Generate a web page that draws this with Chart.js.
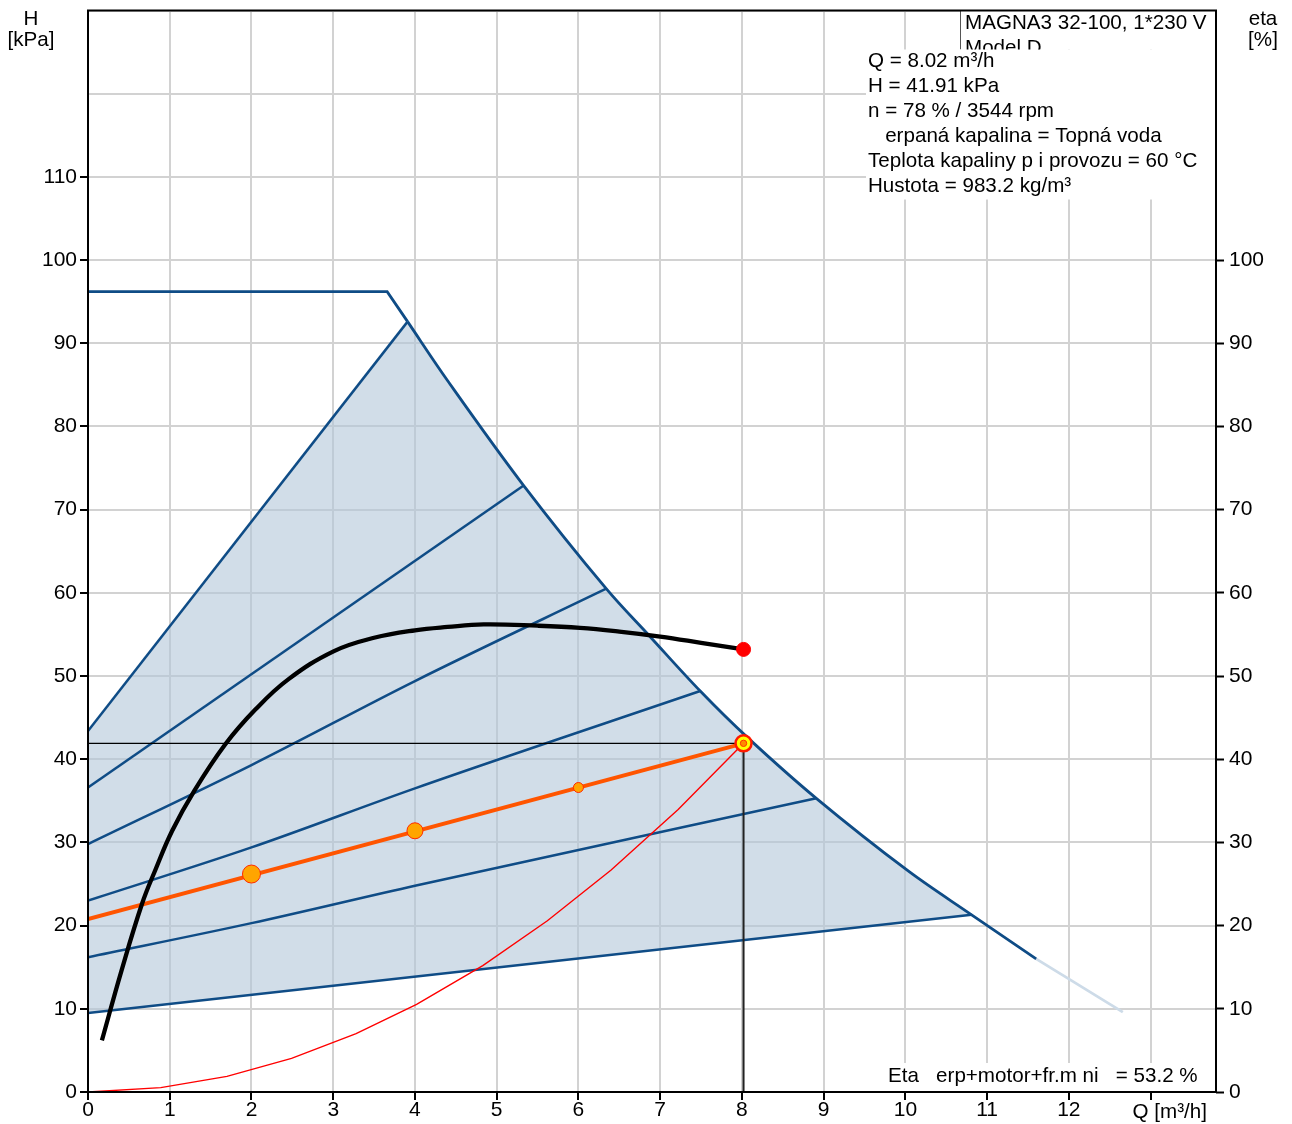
<!DOCTYPE html>
<html>
<head>
<meta charset="utf-8">
<script src="https://cdn.jsdelivr.net/npm/chart.js@4.4.1/dist/chart.umd.min.js"></script>
<style>
  html, body { margin: 0; padding: 0; background: #ffffff; }
  #pump { display: block; }
</style>
</head>
<body>
<canvas id="pump" width="1292" height="1124"></canvas>
<script>
// ---- Pump data (flow Q in m³/h, head H in kPa, efficiency in %) ----
const qTickMax = 13.8;
const hTickMax = 130;

// maximum speed curve: flat top, then the falling part
const topQ = [0, 3.66, 3.91];
const topH = [96.2, 96.2, 92.6];
const maxQ = [3.91, 4.40, 5.33, 6.34, 6.88, 7.49, 8.07, 8.91, 10.03, 10.81, 11.60];
const maxH = [92.6, 85.5, 72.9, 60.5, 54.7, 48.2, 42.6, 35.3, 26.6, 21.3, 16.0];

// run-out part of the maximum curve
const extQ = [11.60, 12.66];
const extH = [16.0, 9.6];

// control curves inside the operating area
const ctrl1Q = [0, 10.81];          const ctrl1H = [9.5, 21.3];
const ctrl2Q = [0, 2, 4, 8.91];     const ctrl2H = [16.2, 20.3, 24.8, 35.3];
const ctrl3Q = [0, 2, 4, 7.49];     const ctrl3H = [23.0, 29.4, 36.5, 48.2];
const ctrl4Q = [0, 2, 4, 6.34];     const ctrl4H = [29.8, 39.3, 49.4, 60.5];
const ctrl5Q = [0, 5.33];           const ctrl5H = [36.6, 72.9];
const ctrl6Q = [0, 3.91];           const ctrl6H = [43.4, 92.6];

// efficiency curve (right axis)
const etaQ = [0.17, 0.41, 0.66, 0.82, 1.03, 1.30, 1.68, 2.05, 2.45, 3.01, 3.50, 4.00, 4.40, 4.84, 5.50, 6.02, 6.50, 7.00, 7.50, 8.02];
const etaH = [6.2, 14.6, 22.6, 26.6, 31.4, 36.2, 41.8, 46.0, 49.6, 53.0, 54.6, 55.5, 55.9, 56.2, 56.05, 55.8, 55.35, 54.75, 54.0, 53.2];

// system curve
const sysQ = [0, 0.89, 1.70, 2.49, 3.28, 4.02, 4.83, 5.62, 6.40, 7.22, 8.02];
const sysH = [0, 0.52, 1.88, 4.04, 7.01, 10.53, 15.20, 20.58, 26.69, 33.97, 41.91];

// proportional-pressure setpoint line and its marks
const spQ = [0, 8.02];
const spH = [20.8, 41.91];
const markQ = [2, 4, 6];
const markH = [26.2, 31.4, 36.6];

// duty point
const dutyQ = 8.02;
const dutyH = 41.91;
const dutyEta = 53.2;

// text
const pumpName = ['MAGNA3 32-100, 1*230 V', 'Model D'];
const infoLines = [
  'Q = ' + dutyQ.toFixed(2) + ' m³/h',
  'H = ' + dutyH.toFixed(2) + ' kPa',
  'n = 78 % / 3544 rpm',
  '   erpaná kapalina = Topná voda',
  'Teplota kapaliny p i provozu = 60 °C',
  'Hustota = 983.2 kg/m³'
];
const etaNote = 'Eta   erp+motor+fr.m ni   = ' + dutyEta.toFixed(1) + ' %';
const qUnit = 'Q [m³/h]';
const leftTitle = ['H', '[kPa]'];
const rightTitle = ['eta', '[%]'];

// ---- helpers ----
const FONT = "'Liberation Sans', Arial, Helvetica, sans-serif";
const BLUE = '#0f4c86';
const pts = (qs, hs) => qs.map((q, i) => ({ x: q, y: hs[i] }));

// envelope of the operating area (upper edge), filled down to the lowest control curve
const envelope = pts(ctrl6Q, ctrl6H).concat(
  pts(maxQ, maxH).filter(p => p.x > ctrl6Q[1] && p.x <= ctrl1Q[1])
);

const lineDs = (data, color, width, order, extra) => Object.assign({
  data, borderColor: color, borderWidth: width, pointRadius: 0,
  pointHoverRadius: 0, tension: 0, fill: false, order
}, extra || {});

const datasets = [
  lineDs(envelope, 'rgba(0,0,0,0)', 0, 100, { fill: 1, backgroundColor: 'rgba(178,198,217,0.6)' }),
  lineDs(pts(ctrl1Q, ctrl1H), BLUE, 2.5, 90),
  lineDs(pts(ctrl2Q, ctrl2H), BLUE, 2.5, 90, { cubicInterpolationMode: 'monotone' }),
  lineDs(pts(ctrl3Q, ctrl3H), BLUE, 2.5, 90, { cubicInterpolationMode: 'monotone' }),
  lineDs(pts(ctrl4Q, ctrl4H), BLUE, 2.5, 90, { cubicInterpolationMode: 'monotone' }),
  lineDs(pts(ctrl5Q, ctrl5H), BLUE, 2.5, 90),
  lineDs(pts(ctrl6Q, ctrl6H), BLUE, 2.5, 90),
  lineDs(pts(topQ, topH), BLUE, 2.8, 80),
  lineDs(pts(maxQ, maxH), BLUE, 2.8, 80, { tension: 0.35 }),
  lineDs(pts(extQ, extH), '#cddbe8', 2.8, 80),
  lineDs(pts(sysQ, sysH), '#ff0000', 1.4, 70),
  lineDs(pts([0, dutyQ], [dutyH, dutyH]), '#000000', 1.2, 60),
  lineDs(pts([dutyQ, dutyQ], [0, dutyH]), '#222222', 2, 60),
  lineDs(pts(spQ, spH), '#ff5500', 4, 50),
  {
    data: pts(markQ, markH), showLine: false, order: 40,
    pointRadius: [9, 8, 5], pointBackgroundColor: '#ffa500',
    pointBorderColor: '#ff2a00', pointBorderWidth: 1, pointHoverRadius: 0
  },
  lineDs(pts(etaQ, etaH), '#000000', 4.3, 30, { tension: 0.4, yAxisID: 'y2' }),
  {
    data: pts([dutyQ], [dutyEta]), showLine: false, order: 20, yAxisID: 'y2',
    pointRadius: 7, pointBackgroundColor: '#ff0000', pointBorderColor: '#ff0000',
    pointBorderWidth: 1, pointHoverRadius: 0
  },
  {
    data: pts([dutyQ], [dutyH]), showLine: false, order: 10,
    pointRadius: 8, pointBackgroundColor: '#ffff00', pointBorderColor: '#ff1a00',
    pointBorderWidth: 2.5, pointHoverRadius: 0
  },
  {
    data: pts([dutyQ], [dutyH]), showLine: false, order: 5,
    pointRadius: 3.2, pointBackgroundColor: '#ff8a00', pointBorderColor: '#ff3300',
    pointBorderWidth: 1, pointHoverRadius: 0
  }
];

const gridColor = '#d2d2d2';
const tickFont = { family: FONT, size: 21 };
const TEXT_FONT = '20.6px ' + FONT;

// white info boxes, titles and the frame round the plot
const overlay = {
  id: 'overlay',
  beforeDraw(chart) {
    const { ctx, width, height } = chart;
    ctx.save();
    ctx.fillStyle = '#ffffff';
    ctx.fillRect(0, 0, width, height);
    ctx.restore();
  },
  afterDraw(chart) {
    const { ctx, chartArea: a } = chart;
    ctx.save();
    ctx.font = TEXT_FONT;
    ctx.textBaseline = 'alphabetic';

    // pump name box
    const nameX = a.right - 256;
    ctx.fillStyle = '#ffffff';
    ctx.fillRect(nameX, a.top, a.right - nameX, 39);
    ctx.strokeStyle = '#555555';
    ctx.lineWidth = 1;
    ctx.beginPath();
    ctx.moveTo(nameX + 0.5, a.top);
    ctx.lineTo(nameX + 0.5, a.top + 39);
    ctx.stroke();
    ctx.fillStyle = '#000000';
    ctx.textAlign = 'left';
    ctx.fillText(pumpName[0], nameX + 5, a.top + 18);
    ctx.fillText(pumpName[1], nameX + 5, a.top + 43);

    // operating data box
    const infoX = a.right - 350;
    ctx.fillStyle = '#ffffff';
    ctx.fillRect(infoX, a.top + 39, a.right - infoX, 150);
    ctx.fillStyle = '#000000';
    infoLines.forEach((t, i) => ctx.fillText(t, infoX + 2, a.top + 56 + i * 25));

    // efficiency note
    ctx.fillStyle = '#ffffff';
    ctx.fillRect(a.right - 334, a.bottom - 29, 334, 28);
    ctx.fillStyle = '#000000';
    ctx.fillText(etaNote, a.right - 328, a.bottom - 10);

    // axis titles
    ctx.textAlign = 'center';
    ctx.fillText(leftTitle[0], 31, 25);
    ctx.fillText(leftTitle[1], 31, 46);
    ctx.fillText(rightTitle[0], 1263, 25);
    ctx.fillText(rightTitle[1], 1263, 46);

    // unit label under the flow axis
    ctx.textAlign = 'left';
    const x13 = chart.scales.x.getPixelForValue(13);
    ctx.fillText(qUnit, x13 - 18, a.bottom + 26);

    // frame
    ctx.strokeStyle = '#000000';
    ctx.lineWidth = 2;
    ctx.strokeRect(a.left, a.top, a.right - a.left, a.bottom - a.top);
    ctx.restore();
  }
};

const hideAbove = lim => ctx => (ctx.tick && ctx.tick.value > lim) ? 'rgba(0,0,0,0)' : '#000000';
const noPad = s => { s.paddingTop = 0; s.paddingBottom = 0; s.paddingLeft = 0; s.paddingRight = 0; };

new Chart(document.getElementById('pump'), {
  type: 'line',
  data: { datasets },
  options: {
    responsive: false,
    animation: false,
    devicePixelRatio: 1,
    events: [],
    layout: { padding: { top: 7, left: 0, right: 0, bottom: 0 } },
    plugins: { legend: { display: false }, tooltip: { enabled: false } },
    scales: {
      x: {
        type: 'linear', min: 0, max: qTickMax,
        afterFit: s => { s.height = 32; noPad(s); },
        border: { display: false },
        grid: { color: gridColor, lineWidth: 2, tickLength: 8, tickColor: '#000000', tickWidth: 2 },
        ticks: {
          stepSize: 1, includeBounds: false, autoSkip: false, maxRotation: 0,
          color: '#000000', font: tickFont, padding: -2,
          callback: v => (v <= 12 ? String(v) : '')
        }
      },
      y: {
        type: 'linear', position: 'left', min: 0, max: hTickMax,
        afterFit: s => { s.width = 88; noPad(s); },
        border: { display: false },
        grid: { color: gridColor, lineWidth: 2, tickLength: 8, tickColor: hideAbove(110), tickWidth: 2 },
        ticks: {
          stepSize: 10, includeBounds: false, color: '#000000', font: tickFont, padding: 3,
          callback: v => (v <= 110 ? String(v) : '')
        }
      },
      y2: {
        type: 'linear', position: 'right', min: 0, max: hTickMax,
        afterFit: s => { s.width = 76; noPad(s); },
        border: { display: false },
        grid: { drawOnChartArea: false, tickLength: 8, tickColor: hideAbove(100), tickWidth: 2 },
        ticks: {
          stepSize: 10, includeBounds: false, color: '#000000', font: tickFont, padding: 5,
          callback: v => (v <= 100 ? String(v) : '')
        }
      }
    }
  },
  plugins: [overlay]
});
</script>
</body>
</html>
